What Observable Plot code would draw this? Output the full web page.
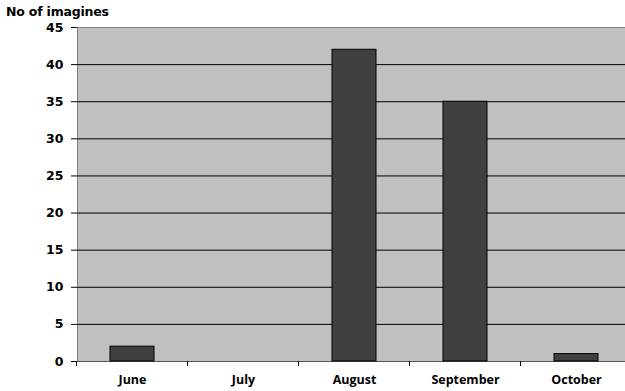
<!DOCTYPE html>
<html>
<head>
<meta charset="utf-8">
<script src="https://cdn.jsdelivr.net/npm/d3@7"></script>
<script src="https://cdn.jsdelivr.net/npm/@observablehq/plot@0.6"></script>
<style>
  html, body { margin: 0; padding: 0; background: #fff; overflow: hidden; width: 625px; height: 391px; }
  #wrap { position: relative; width: 625px; height: 391px; }
  #title { position: absolute; left: 6px; top: 4px; font: bold 12.5px "DejaVu Sans", sans-serif; color: #000; letter-spacing: -0.2px; }
</style>
</head>
<body>
<div id="wrap">
  <div id="chart"></div>
  <div id="title">No of imagines</div>
</div>
<script>
const months = ["June", "July", "August", "September", "October"];
const counts = [2, 0, 42, 35, 1];
const yTicks = [0, 5, 10, 15, 20, 25, 30, 35, 40, 45];
const gridTicks = [5, 10, 15, 20, 25, 30, 35, 40];

const data = months.map((m, i) => ({month: m, count: counts[i]}));

function boundaryTicks(index, scales, values, dimensions) {
  const x = scales.x, y = scales.y;
  const g = d3.create("svg:g");
  const step = x.step(), bw = x.bandwidth();
  const y0 = y(0);
  const xs = months.map(m => x(m) - (step - bw) / 2);
  xs.push(x(months[months.length - 1]) + bw + (step - bw) / 2);
  g.selectAll("line").data(xs).join("line")
    .attr("x1", d => d).attr("x2", d => d)
    .attr("y1", y0).attr("y2", y0 + 5)
    .attr("stroke", "#000").attr("stroke-width", 1);
  return g.node();
}

const chart = Plot.plot({
  width: 625,
  height: 391,
  marginLeft: 77,
  marginRight: -7,
  marginTop: 27,
  marginBottom: 30,
  style: {background: "transparent", overflow: "hidden"},
  x: {domain: months, paddingInner: 0.6, paddingOuter: 0.3, label: null},
  y: {domain: [0, 45], label: null},
  marks: [
    Plot.frame({fill: "#c0c0c0", stroke: "#808080"}),
    Plot.ruleY(gridTicks, {stroke: "#000", strokeWidth: 1}),
    Plot.ruleY([0], {stroke: "#555", strokeWidth: 1.2}),
    Plot.barY(data, {x: "month", y: "count", fill: "#404040", stroke: "#000", strokeWidth: 1}),
    Plot.axisY(yTicks, {tickSize: 6, tickPadding: 8, stroke: "#000", fontSize: 12.5, fontWeight: "bold", fontFamily: "DejaVu Sans", fill: "#000", label: null}),
    Plot.axisX({tickSize: 0, tickPadding: 14, fontSize: 12.5, fontWeight: "bold", fontFamily: "Open Sans", fill: "#000", label: null}),
    boundaryTicks
  ]
});
document.getElementById("chart").appendChild(chart);
</script>
</body>
</html>
